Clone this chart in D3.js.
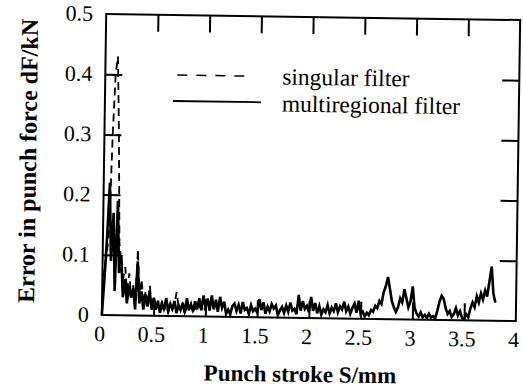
<!DOCTYPE html>
<html><head><meta charset="utf-8">
<script src="https://cdn.jsdelivr.net/npm/d3@7"></script>
<style>html,body{margin:0;padding:0;background:#fff;}svg{display:block;}
svg text{font-family:"Liberation Serif","Times New Roman",Times,serif;}</style>
</head><body>
<script>
// ---- data ----
const xDomain = [0, 4];
const yDomain = [0, 0.5];
const xTicks = [0, 0.5, 1, 1.5, 2, 2.5, 3, 3.5, 4];
const xTickLabels = ["0", "0.5", "1", "1.5", "2", "2.5", "3", "3.5", "4"];
const yTicks = [0, 0.1, 0.2, 0.3, 0.4, 0.5];
const yTickLabels = ["0", "0.1", "0.2", "0.3", "0.4", "0.5"];
const seriesNames = ["singular filter", "multiregional filter"];
const sampleStep = 0.02; // stroke sampling interval (mm)

// multiregional filter (solid), S = 0 .. 3.80 mm
const multiregional = [
  0.00, 0.06, 0.13, 0.22, 0.09, 0.17, 0.04, 0.19, 0.07, 0.10, 0.03, 0.06, 0.02, 0.05, 0.03, 0.045, 0.01, 0.09, 0.02, 0.04, 0.01, 0.035, 0.015, 0.04, 0.01,
  0.03, 0.01, 0.025, 0.005, 0.02, 0.01, 0.03, 0.008, 0.02, 0.012, 0.025, 0.005, 0.018, 0.01, 0.022, 0.006, 0.03, 0.01, 0.02, 0.008, 0.025, 0.012, 0.03, 0.01, 0.035,
  0.015, 0.03, 0.01, 0.035, 0.012, 0.028, 0.008, 0.033, 0.015, 0.025, 0.005, 0.012, 0.004, 0.018, 0.022, 0.01, 0.02, 0.006, 0.025, 0.012, 0.015, 0.005, 0.02, 0.01, 0.014,
  0.008, 0.03, 0.012, 0.025, 0.006, 0.018, 0.01, 0.022, 0.015, 0.02, 0.004, 0.012, 0.018, 0.008, 0.02, 0.01, 0.025, 0.012, 0.015, 0.006, 0.038, 0.012, 0.028, 0.015, 0.02,
  0.01, 0.035, 0.012, 0.025, 0.008, 0.02, 0.006, 0.015, 0.01, 0.022, 0.008, 0.018, 0.012, 0.025, 0.01, 0.02, 0.015, 0.028, 0.012, 0.02, 0.008, 0.018, 0.025, 0.01, 0.03,
  0.008, 0.012, 0.004, 0.01, 0.006, 0.015, 0.012, 0.022, 0.018, 0.03, 0.025, 0.045, 0.055, 0.07, 0.05, 0.03, 0.02, 0.012, 0.02, 0.035, 0.028, 0.05, 0.035, 0.02, 0.03,
  0.055, 0.02, 0.01, 0.005, 0.012, 0.004, 0.008, 0.003, 0.01, 0.004, 0.006, 0.002, 0.015, 0.03, 0.04, 0.035, 0.02, 0.01, 0.015, 0.005, 0.01, 0.02, 0.008, 0.015, 0.004,
  0.002, 0.01, 0.005, 0.02, 0.03, 0.022, 0.04, 0.03, 0.045, 0.035, 0.05, 0.04, 0.065, 0.09, 0.045, 0.03
];

// singular filter (dashed), S = 0 .. 1.00 mm
const singular = [
  0.02, 0.08, 0.10, 0.15, 0.30, 0.40, 0.43, 0.30, 0.12, 0.09, 0.06, 0.08, 0.04, 0.07, 0.03, 0.05, 0.02, 0.11, 0.03, 0.06, 0.02, 0.04, 0.02, 0.05, 0.01,
  0.03, 0.01, 0.02, 0.01, 0.025, 0.01, 0.02, 0.005, 0.015, 0.01, 0.02, 0.04, 0.015, 0.01, 0.02, 0.005, 0.015, 0.01, 0.02, 0.008, 0.015, 0.01, 0.02, 0.01, 0.015, 0.01
];

// ---- drawing ----
const W = 523, H = 389;
const m = {left: 104, right: 518, top: 17, bottom: 318};
const svg = d3.select("body").append("svg").attr("width", W).attr("height", H);
const g = svg.append("g").attr("transform", "rotate(0.83,310,167)");

const x = d3.scaleLinear().domain(xDomain).range([m.left, m.right]);
const y = d3.scaleLinear().domain(yDomain).range([m.bottom, m.top]);

// data lines
const line = d3.line().x(d => x(d[0])).y(d => y(d[1]));
const solidPts = multiregional.map((v, i) => [i * sampleStep, v]);
const dashPts = singular.map((v, i) => [i * sampleStep, v]);
g.append("path").attr("d", line(solidPts)).attr("fill", "none")
  .attr("stroke", "#000").attr("stroke-width", 2.6).attr("stroke-linejoin", "miter");
g.append("path").attr("d", line(dashPts)).attr("fill", "none")
  .attr("stroke", "#000").attr("stroke-width", 1.8).attr("stroke-dasharray", "8,5");

// frame
g.append("rect").attr("x", m.left).attr("y", m.top)
  .attr("width", m.right - m.left).attr("height", m.bottom - m.top)
  .attr("fill", "none").attr("stroke", "#000").attr("stroke-width", 2);

// inward ticks via axes
const tickLen = 17;
const inner = (sel) => sel.select(".domain").remove();
const xIn = xTicks.filter(t => t > xDomain[0] && t < xDomain[1]);
const yIn = yTicks.filter(t => t > yDomain[0] && t < yDomain[1]);
g.append("g").attr("transform", `translate(0,${m.top})`)
  .call(d3.axisBottom(x).tickValues(xIn).tickSize(tickLen).tickFormat(""))
  .call(inner).selectAll("line").attr("stroke-width", 2);
g.append("g").attr("transform", `translate(0,${m.bottom})`)
  .call(d3.axisTop(x).tickValues(xIn).tickSize(tickLen).tickFormat(""))
  .call(inner).selectAll("line").attr("stroke-width", 2);
g.append("g").attr("transform", `translate(${m.left},0)`)
  .call(d3.axisRight(y).tickValues(yIn).tickSize(tickLen).tickFormat(""))
  .call(inner).selectAll("line").attr("stroke-width", 2);
g.append("g").attr("transform", `translate(${m.right},0)`)
  .call(d3.axisLeft(y).tickValues(yIn).tickSize(tickLen).tickFormat(""))
  .call(inner).selectAll("line").attr("stroke-width", 2);

// tick labels
g.selectAll("text.xl").data(xTicks).enter().append("text")
  .attr("x", d => x(d) - 2).attr("y", m.bottom + 26)
  .attr("text-anchor", "middle").attr("font-size", 22)
  .text((d, i) => xTickLabels[i]);
g.selectAll("text.yl").data(yTicks).enter().append("text")
  .attr("x", m.left - 13).attr("y", d => y(d) + 7)
  .attr("text-anchor", "end").attr("font-size", 22)
  .text((d, i) => yTickLabels[i]);

// axis titles
g.append("text").attr("x", 303).attr("y", 382).attr("text-anchor", "middle")
  .attr("font-size", 23).attr("font-weight", "bold")
  .text("Punch stroke S/mm");
g.append("text").attr("transform", "translate(36,165) rotate(-90)")
  .attr("text-anchor", "middle").attr("font-size", 24)
  .attr("font-weight", "bold").text("Error in punch force dF/kN");

// legend
const lg = g.append("g");
lg.append("line").attr("x1", 176).attr("x2", 252).attr("y1", 77).attr("y2", 77)
  .attr("stroke", "#000").attr("stroke-width", 1.5).attr("stroke-dasharray", "10,9");
lg.append("line").attr("x1", 172).attr("x2", 260).attr("y1", 103).attr("y2", 103)
  .attr("stroke", "#000").attr("stroke-width", 1.8);
lg.append("text").attr("x", 281).attr("y", 85).attr("font-size", 23.5)
  .text(seriesNames[0]);
lg.append("text").attr("x", 281).attr("y", 112).attr("font-size", 23.5)
  .text(seriesNames[1]);
</script>
</body></html>
